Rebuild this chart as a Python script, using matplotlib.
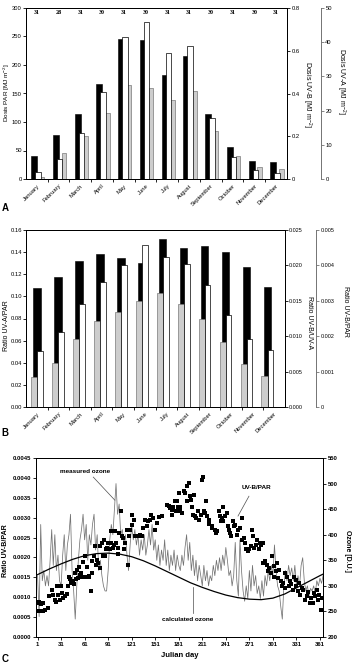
import numpy as np
import matplotlib
matplotlib.use("Agg")
import matplotlib.pyplot as plt

plt.rcParams['font.family'] = ['Liberation Sans', 'DejaVu Sans']
plt.rcParams['mathtext.default'] = 'regular'
plt.rcParams['axes.linewidth'] = 0.7

months = ["January", "February", "March", "April", "May", "June", "July",
          "August", "September", "October", "November", "December"]
days_in_month = [31, 28, 31, 30, 31, 30, 31, 31, 30, 31, 30, 31]

# Panel A: monthly doses
dose_par = [40, 77, 114, 166, 245, 244, 183, 215, 114, 57, 31, 29]           # MJ m-2
dose_uvb = [0.034, 0.095, 0.217, 0.406, 0.663, 0.733, 0.59, 0.623, 0.284, 0.105, 0.041, 0.027]
dose_uva = [0.5, 7.6, 12.6, 19.2, 27.5, 26.7, 23.2, 25.8, 13.9, 6.7, 3.4, 2.8]

# Panel B: monthly ratios
ratio_uva_par = [0.0272, 0.0402, 0.0613, 0.0779, 0.0863, 0.0957, 0.1026, 0.0927, 0.080, 0.0586, 0.0392, 0.0284]
ratio_uvb_uva = [0.0168, 0.0184, 0.0206, 0.0216, 0.0210, 0.0204, 0.0237, 0.0224, 0.0227, 0.0219, 0.0198, 0.0170]
ratio_uvb_par = [0.00158, 0.00212, 0.0029, 0.00352, 0.00402, 0.00458, 0.00424, 0.00405, 0.00344, 0.00259, 0.00193, 0.00162]

# Panel C: daily UV-B/PAR ratio
uvb_day = [1, 3, 6, 8, 3, 5, 8, 11, 14, 15, 19, 21, 23, 25, 27, 30, 26, 31, 32, 34, 36, 38,
           40, 41, 42, 44, 46, 47, 49, 50, 52, 51, 54, 55, 57, 58, 59, 61, 63, 64, 66, 67, 69,
           70, 71, 73, 74, 75, 77, 78, 80, 81, 83, 84, 86, 87, 88, 90, 91, 93, 94, 95, 97, 98,
           100, 101, 103, 104, 105, 107, 108, 110, 111, 113, 115, 116, 117, 119, 121, 122, 124,
           125, 127, 130, 132, 134, 136, 138, 140, 142, 144, 146, 148, 151, 153, 156, 159,
           166, 168, 170, 172, 174, 176, 178, 181, 182, 173, 179, 180, 183, 185, 188, 189, 191,
           194, 195, 192, 196, 198, 201, 199, 202, 203, 206, 207, 209, 210, 212, 213, 214, 216,
           217, 219, 220, 223, 224, 227, 228, 230, 232, 233, 235, 236, 237, 238, 240, 242, 244,
           245, 246, 248, 250, 251, 253, 255, 257, 259, 261, 262, 264, 266, 267, 269, 271, 273,
           274, 276, 277, 279, 281, 283, 284, 286, 288, 289, 291, 293, 295, 296, 298, 300, 302,
           303, 305, 306, 308, 309, 311, 313, 314, 316, 317, 319, 321, 323, 324, 326, 328, 330,
           331, 333, 334, 336, 338, 340, 342, 344, 346, 348, 349, 352, 354, 355, 357, 359, 360,
           362, 363]
uvb_ratio = [0.00085, 0.00087, 0.00084, 0.00085, 0.00065, 0.00065, 0.00065, 0.00069, 0.00073,
             0.00102, 0.00117, 0.00106, 0.00092, 0.00087, 0.00106, 0.00092, 0.00127, 0.00127,
             0.0011, 0.00098, 0.00104, 0.00108, 0.00127, 0.00152, 0.00147, 0.00136, 0.0014,
             0.00134, 0.00161, 0.00146, 0.00148, 0.00169, 0.00176, 0.00157, 0.00161, 0.00152,
             0.00188, 0.00203, 0.00152, 0.00176, 0.00152, 0.00154, 0.00115, 0.00161, 0.0019,
             0.00203, 0.00228, 0.00182, 0.00194, 0.00186, 0.00173, 0.00228, 0.00236, 0.00203,
             0.00245, 0.00203, 0.0022, 0.00224, 0.00236, 0.0022, 0.00266, 0.00236, 0.00224,
             0.00232, 0.00266, 0.00236, 0.00209, 0.00224, 0.00261, 0.00316, 0.00253, 0.00249,
             0.0022, 0.00236, 0.0027, 0.00182, 0.00253, 0.0027, 0.00307, 0.00282, 0.00295,
             0.00253, 0.00255, 0.00253, 0.00257, 0.00253, 0.00274, 0.00295, 0.00278, 0.00291,
             0.00295, 0.00307, 0.00299, 0.0027, 0.00287, 0.00302, 0.00303,
             0.00333, 0.0033, 0.00324, 0.00307, 0.00328, 0.00341, 0.00316, 0.00362, 0.00327,
             0.0032, 0.00341, 0.00327, 0.00316, 0.00312, 0.00366, 0.00362, 0.00379,
             0.00387, 0.00355, 0.00341, 0.00344, 0.00328, 0.00358, 0.00307, 0.00303, 0.00299,
             0.00316, 0.00293, 0.00307, 0.00394, 0.00402, 0.00316, 0.00312, 0.00341,
             0.00305, 0.00295, 0.00285, 0.0028, 0.00274, 0.0027, 0.00261, 0.00266, 0.00316,
             0.00303, 0.00291, 0.00299, 0.00328, 0.00291, 0.00305, 0.00312, 0.00278,
             0.0027, 0.00261, 0.00253, 0.00291, 0.00278, 0.00282, 0.00257, 0.0027, 0.00274,
             0.00299, 0.00245, 0.00249, 0.00236, 0.0022, 0.00215, 0.0022, 0.00228,
             0.0027, 0.00253, 0.00224, 0.00232, 0.00245, 0.0022, 0.00236, 0.00232, 0.00236,
             0.00186, 0.0019, 0.00182, 0.00165, 0.00173, 0.00161, 0.00204, 0.00178,
             0.00152, 0.00165, 0.00186, 0.00148, 0.00169, 0.0014, 0.00127, 0.00136, 0.00161,
             0.00123, 0.00152, 0.00127, 0.0014, 0.00132, 0.00119, 0.00152, 0.00144,
             0.00127, 0.00115, 0.00136, 0.00106, 0.00123, 0.00119, 0.00094, 0.00102, 0.00112,
             0.00085, 0.00098, 0.00085, 0.00111, 0.00102, 0.00119, 0.00094, 0.00106,
             0.00069, 0.00098]

# Panel C: measured ozone (every second day from day 1)
ozone_meas = [320, 240, 420, 310, 330, 300, 320, 300, 350, 410, 340, 400, 330, 360, 310,
              300, 360, 400, 330, 380, 400, 440, 330, 290, 235, 300, 350, 390, 410, 440,
              390, 420, 350, 400, 380, 420, 440, 370, 400, 330, 350, 320, 300, 290, 290,
              330, 390, 420, 400, 450, 500, 440, 460, 400, 410, 380, 400, 360, 330, 380,
              420, 390, 410, 380, 400, 360, 390, 370, 400, 360, 380, 410, 380, 420, 370,
              390, 350, 380, 340, 370, 350, 390, 340, 370, 330, 360, 340, 370, 330, 360, 340,
              330, 360, 340, 375, 400, 350, 385, 330, 360, 320, 350, 310, 340, 320, 300,
              340, 310, 330, 300, 320, 310, 340, 320, 350, 330, 355, 330, 360, 340, 375,
              350, 320, 330, 300, 320, 385, 310, 280, 390, 330, 290, 270, 300, 275, 330,
              290, 340, 300, 320, 285, 300, 275, 310, 280, 320, 300, 330, 310, 340, 320,
              380, 330, 300, 290, 260, 235, 300, 330, 310, 340, 320, 335, 310, 340, 300,
              320, 300, 340, 355, 310, 290, 300, 280, 295, 290, 300, 285, 310, 300, 315,
              305, 320]
ozone_meas_day = np.arange(1, 366, 2)

# Panel C: calculated ozone
calc_day = [1, 16, 31, 46, 61, 76, 91, 106, 121, 136, 151, 166, 181, 196, 211, 226, 241,
            256, 271, 286, 301, 316, 331, 346, 361, 365]
calc_ozone = [322, 333, 343, 352, 359, 363, 364, 362, 357, 349, 339, 328, 317, 306, 297,
              289, 282, 277, 274, 273, 276, 284, 296, 308, 320, 323]

W, H = 353, 667
fig = plt.figure(figsize=(W / 100, H / 100), dpi=100)

def fx(p):
    return p / W

def fy(p):
    return 1 - p / H

TICK = 4.2
BLACK = 'black'
GREY = '#cdcdcd'
GREY_EDGE = '#7a7a7a'
x = np.arange(12)


def style_month_axis(ax):
    ax.set_xlim(-0.5, 11.5)
    ax.set_xticks(x)
    ax.set_xticklabels(months, rotation=45, ha='right', rotation_mode='anchor', fontsize=TICK)
    ax.tick_params(axis='x', which='major', length=0, pad=3)
    ax.set_xticks(np.arange(11) + 0.5, minor=True)
    ax.tick_params(axis='x', which='minor', length=2.2, width=0.6, direction='out')
    ax.tick_params(axis='y', labelsize=TICK, length=2, width=0.6, pad=1.0)


def third_axis(ax, pos):
    ax.spines['right'].set_position(('axes', pos))
    for s in ['top', 'bottom', 'left']:
        ax.spines[s].set_visible(False)
    ax.spines['right'].set_color('0.45')
    ax.tick_params(axis='y', colors='0.45', labelcolor='black', labelsize=TICK,
                   length=2, width=0.6, pad=1.2)


# ---------------- Panel A ----------------
axA = fig.add_axes([fx(26), fy(179), fx(261), 171 / H])
axA.bar(x - 0.13, dose_par, width=0.28, color=BLACK, edgecolor=BLACK, linewidth=0.4)
axA.set_ylim(0, 300)
axA.set_yticks(np.arange(0, 301, 50))
style_month_axis(axA)
for i, d in enumerate(days_in_month):
    axA.text(i, 291.5, str(d), ha='center', va='center', fontsize=4.3,
             family='Liberation Serif', weight='bold')

axA_uva = axA.twinx()
axA_uva.bar(x + 0.24, dose_uva, width=0.2, color=GREY, edgecolor=GREY_EDGE, linewidth=0.5)
axA_uva.set_ylim(0, 50)
axA_uva.set_yticks(np.arange(0, 51, 10))
third_axis(axA_uva, 1.13)

axA_uvb = axA.twinx()
axA_uvb.bar(x + 0.05, dose_uvb, width=0.25, color='white', edgecolor=BLACK, linewidth=0.5)
axA_uvb.set_ylim(0, 0.8)
axA_uvb.set_yticks([0, 0.2, 0.4, 0.6, 0.8])
axA_uvb.set_yticklabels(['0', '0.2', '0.4', '0.6', '0.8'])
axA_uvb.tick_params(axis='y', labelsize=TICK, length=2, width=0.6, pad=1.2)

fig.text(fx(6.5), fy(93), r'Dosis PAR [MJ m$^{-2}$]', rotation=90, fontsize=4.6,
         ha='center', va='center')
fig.text(fx(307), fy(94), r'Dosis UV-B [MJ m$^{-2}$]', rotation=270, fontsize=5,
         ha='center', va='center')
fig.text(fx(341), fy(81), r'Dosis UV-A [MJ m$^{-2}$]', rotation=270, fontsize=5,
         ha='center', va='center')
fig.text(fx(5), fy(208), 'A', fontsize=7, weight='bold', ha='center', va='center')

# ---------------- Panel B ----------------
axB = fig.add_axes([fx(26), fy(407), fx(259), 177 / H])
axB_black = axB.twinx()
axB_white = axB.twinx()
axB.set_zorder(2)
axB.patch.set_visible(False)
axB_black.set_zorder(1)
axB_white.set_zorder(3)

gx = x * 0.971 + 0.01
axB_black.bar(gx, ratio_uvb_uva, width=0.34, color=BLACK, edgecolor=BLACK, linewidth=0.4)
axB_black.set_ylim(0, 0.025)
axB_black.set_yticks(np.arange(0, 0.0251, 0.005))
axB_black.yaxis.set_major_formatter(matplotlib.ticker.FormatStrFormatter('%.3f'))
axB_black.tick_params(axis='y', labelsize=3.9, length=2, width=0.6, pad=1.0)

axB.bar(gx - 0.14, ratio_uva_par, width=0.28, color=GREY, edgecolor=GREY_EDGE, linewidth=0.5)
axB.set_ylim(0, 0.16)
axB.set_yticks(np.arange(0, 0.161, 0.02))
axB.yaxis.set_major_formatter(matplotlib.ticker.FormatStrFormatter('%.2f'))
style_month_axis(axB)

axB_white.bar(gx + 0.14, ratio_uvb_par, width=0.26, color='white', edgecolor=BLACK, linewidth=0.5)
axB_white.set_ylim(0, 0.005)
axB_white.set_yticks(np.arange(0, 0.0051, 0.001))
axB_white.set_yticklabels(['0', '0.001', '0.002', '0.003', '0.004', '0.005'])
third_axis(axB_white, 1.12)
axB_white.tick_params(axis='y', labelsize=3.9)

fig.text(fx(6), fy(326), 'Ratio UV-A/PAR', rotation=90, fontsize=5, ha='center', va='center')
fig.text(fx(309), fy(323), 'Ratio UV-B/UV-A', rotation=270, fontsize=5, ha='center', va='center')
fig.text(fx(346), fy(311), 'Ratio UV-B/PAR', rotation=270, fontsize=5, ha='center', va='center')
fig.text(fx(5), fy(433), 'B', fontsize=7, weight='bold', ha='center', va='center')

# ---------------- Panel C ----------------
axC = fig.add_axes([fx(36), fy(637), fx(286.7), 179 / H])
axO = axC.twinx()
axC.set_zorder(2)
axC.patch.set_visible(False)
axO.set_zorder(1)

n = min(len(ozone_meas), len(ozone_meas_day))
axO.plot(ozone_meas_day[:n], ozone_meas[:n], color='0.45', lw=0.55)
axO.plot(calc_day, calc_ozone, color='black', lw=0.9)
axO.set_ylim(200, 550)
axO.set_yticks(np.arange(200, 551, 50))
axO.tick_params(axis='y', labelsize=TICK, length=2, width=0.6, pad=1.5)
for lab in axO.get_yticklabels():
    lab.set_fontweight('bold')

axC.scatter(uvb_day, uvb_ratio, marker='s', s=7, color='black', linewidths=0, zorder=3)
axC.set_xlim(-1, 364.5)
axC.set_ylim(0, 0.0045)
axC.set_xticks(np.arange(1, 362, 30))
axC.set_yticks(np.arange(0, 0.00451, 0.0005))
axC.yaxis.set_major_formatter(matplotlib.ticker.FormatStrFormatter('%.4f'))
axC.tick_params(axis='both', labelsize=TICK, length=2, width=0.6, pad=1.5)
for lab in axC.get_xticklabels() + axC.get_yticklabels():
    lab.set_fontweight('bold')
axC.set_xlabel('Julian day', fontsize=5.5, labelpad=4, weight='bold')

fig.text(fx(6), fy(551), 'Ratio UV-B/PAR', rotation=90, fontsize=5, weight='bold',
         ha='center', va='center')
fig.text(fx(347), fy(551), 'Ozone [D.U.]', rotation=270, fontsize=5, weight='bold',
         ha='center', va='center')

axC.text(62, 0.00415, 'measured ozone', fontsize=4.6, weight='bold', ha='center', va='center')
axC.plot([72, 99.5], [0.00402, 0.00344], color='0.3', lw=0.5)
axC.text(280, 0.00377, 'UV-B/PAR', fontsize=4.6, weight='bold', ha='center', va='center')
axC.plot([270.5, 256.5], [0.00354, 0.00304], color='0.3', lw=0.5)
axC.text(192, 0.00043, 'calculated ozone', fontsize=4.6, weight='bold', ha='center', va='center')
axC.plot([199, 199], [0.00060, 0.00126], color='0.3', lw=0.5)

fig.text(fx(5), fy(659), 'C', fontsize=7, weight='bold', ha='center', va='center')

fig.savefig('out.png', dpi=100)
